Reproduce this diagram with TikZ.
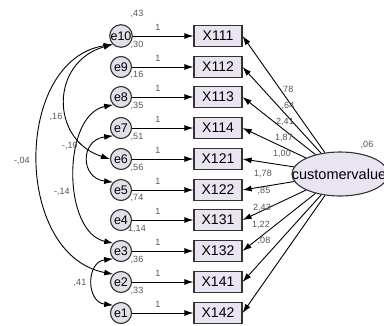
\documentclass[tikz,border=0pt]{standalone}
\usepackage{fontspec}
\setmainfont{Liberation Sans}
\usetikzlibrary{arrows.meta,shapes.geometric}
\definecolor{boxfill}{HTML}{EAE4F2}
\definecolor{errfill}{HTML}{E2DEEA}
\definecolor{lblgray}{HTML}{555555}
\tikzset{
  obs/.style={draw=black!80, line width=1.2pt, fill=boxfill, minimum width=48pt, minimum height=21pt, inner sep=0pt, font=\fontsize{14}{14}\selectfont},
  err/.style={draw=black!80, line width=1.1pt, fill=errfill, circle, minimum size=21pt, inner sep=0pt, font=\fontsize{12.5}{12.5}\selectfont},
  lat/.style={draw=black!80, line width=1.1pt, fill=boxfill, ellipse, minimum width=96pt, minimum height=44pt, inner sep=0pt},
  arr/.style={-{Latex[length=9pt,width=6pt]}, line width=0.9pt, black},
  cov/.style={{Latex[length=9pt,width=6pt]}-{Latex[length=9pt,width=6pt]}, line width=0.9pt, black},
  lbl/.style={text=lblgray, font=\fontsize{9}{9}\selectfont, inner sep=0pt},
}
\begin{document}
\begin{tikzpicture}[x=1pt,y=-1pt]
\useasboundingbox (0,0) rectangle (384,325);
\clip (0,0) rectangle (384,325);
\fill[white] (0,0) rectangle (384,325);
% latent
\node[lat] (cv) at (340,174) {};
\node[font=\fontsize{14.5}{14.5}\selectfont, inner sep=0pt] (cvtext) at (339,174) {customervalue};
\node[lbl] at (367,145) {,06};
% boxes and errors
\foreach \n/\t/\e/\y/\v in {1/X111/e10/36/{,43}, 2/X112/e9/67/{,30}, 3/X113/e8/97/{,16}, 4/X114/e7/128/{,35}, 5/X121/e6/159/{,51}, 6/X122/e5/190/{,56}, 7/X131/e4/220/{,74}, 8/X132/e3/251/{1,14}, 9/X141/e2/282/{,36}, 10/X142/e1/313/{,33}}{
  \node[obs] (b\n) at (218,\y) {\t};
  \node[err] (\e) at (121,\y) {\e};
  \draw[arr] (\e) -- (b\n.west);
  \node[lbl] at (158,\y-9) {1};
  \node[lbl] at (137,\y-22) {\v};
  \draw[arr] (cv) -- (b\n.east);
}
% loading labels
\node[lbl] at (287,90) {,78};
\node[lbl] at (288,106) {,64};
\node[lbl] at (285,122) {2,41};
\node[lbl] at (284,138) {1,87};
\node[lbl] at (282,154) {1,00};
\node[lbl] at (263,174) {1,78};
\node[lbl] at (264,191) {,85};
\node[lbl] at (262,208) {2,43};
\node[lbl] at (261,225) {1,22};
\node[lbl] at (264,241) {,08};
% covariances
\draw[cov] (e10.south west) .. controls (13,60) and (13,255) .. (e2.north west);
\draw[cov] (e10.south west) .. controls (50,62) and (50,140) .. (e6.west);
\draw[cov] (e8.south west) .. controls (62,115) and (62,232) .. (e3.north west);
\draw[cov] (e7.south west) .. controls (80,140) and (80,178) .. (e5.north west);
\draw[cov] (e3.south west) .. controls (86,262) and (86,302) .. (e1.north west);
\node[lbl] at (22,161) {-,04};
\node[lbl] at (56,117) {,16};
\node[lbl] at (70,146) {-,19};
\node[lbl] at (62,192) {-,14};
\node[lbl] at (80,283) {,41};
\end{tikzpicture}
\end{document}
